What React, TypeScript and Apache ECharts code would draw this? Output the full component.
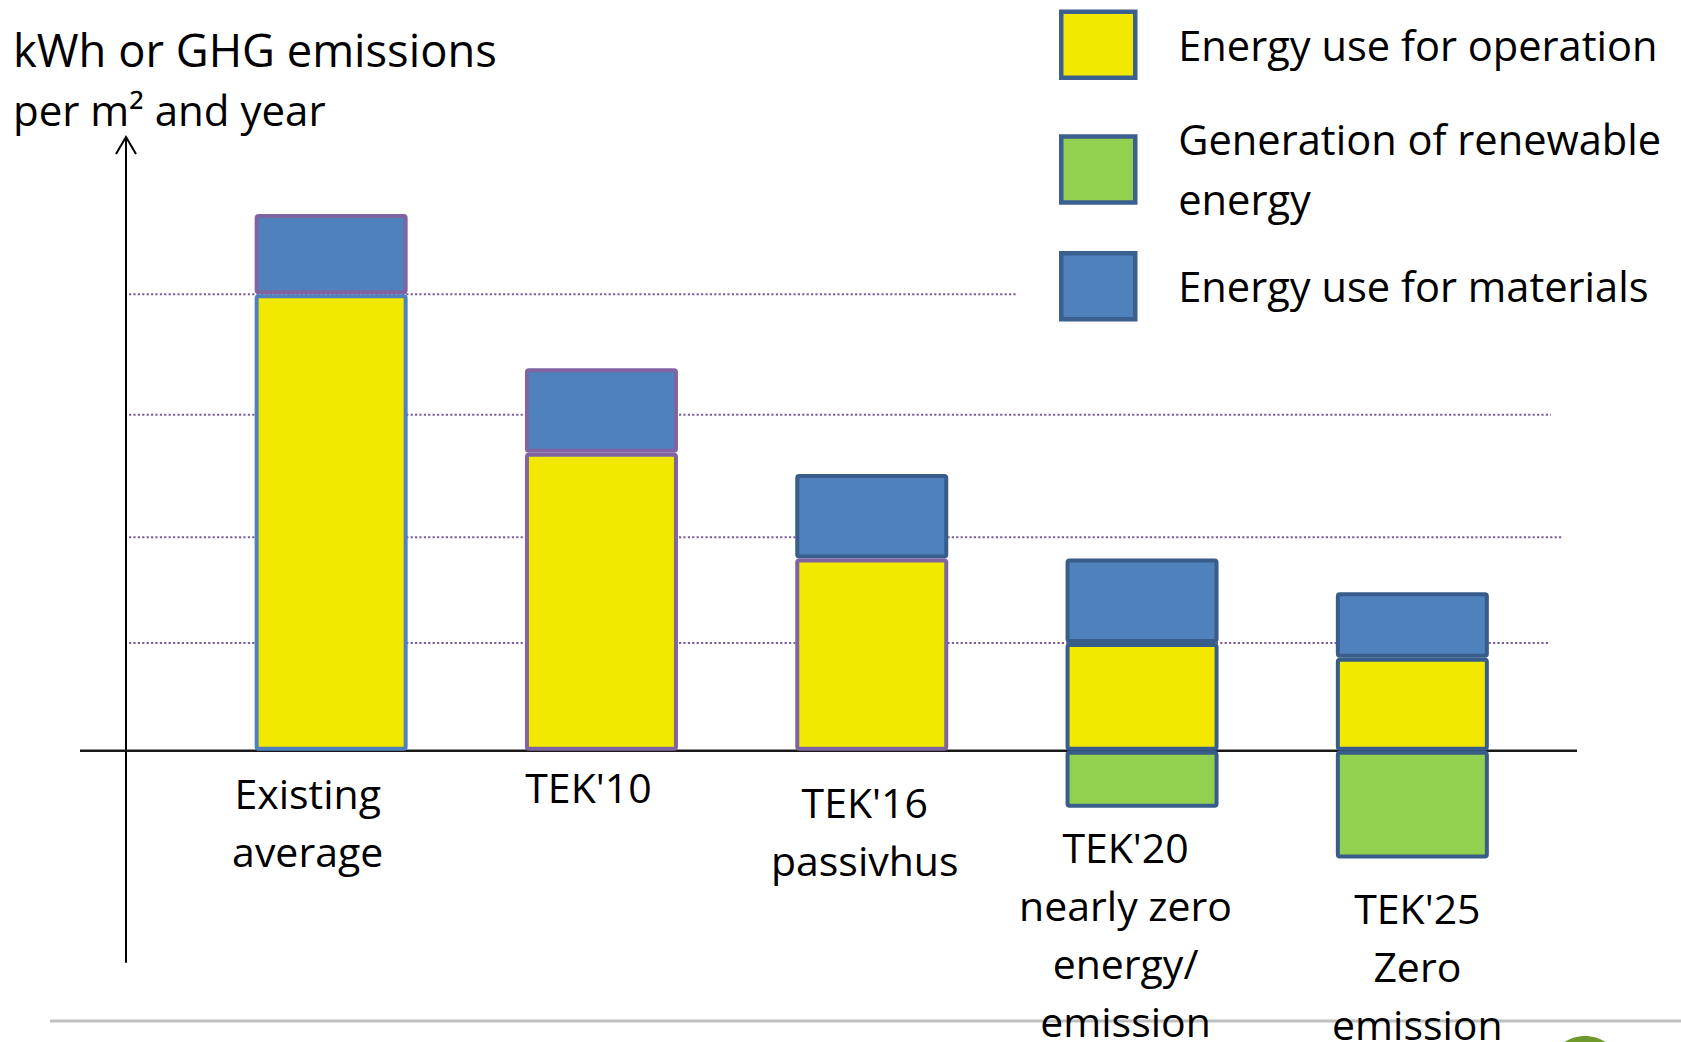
import React, { useEffect, useRef } from 'react';
import * as echarts from 'echarts';

// ---- data ----
const CATEGORIES = [
  'Existing\naverage',
  "TEK'10",
  "TEK'16\npassivhus",
  "TEK'20\nnearly zero\nenergy/\nemission",
  "TEK'25\nZero\nemission",
];
const OPERATION = [216, 141, 91, 51, 44];
const MATERIALS = [38, 40, 40, 40, 31];
const RENEWABLE: (number | null)[] = [null, null, null, -27, -51];
const GUIDE_VALUES = [216, 159, 101, 51];
const Y_MIN = -100;
const Y_MAX = 290;

const SERIES_NAMES = {
  operation: 'Energy use for operation',
  renewable: 'Generation of renewable energy',
  materials: 'Energy use for materials',
};

// ---- styles / layout ----
const FONT = '"Open Sans", "Noto Sans", sans-serif';
const YELLOW = '#f3e900';
const BLUE = '#4f81bd';
const GREEN = '#92d050';
const DARK = '#385d8a';
const PURPLE = '#8064a2';
const LIGHT = '#4f81bd';
const OPERATION_BORDER = [LIGHT, PURPLE, PURPLE, DARK, DARK];
const MATERIALS_BORDER = [PURPLE, PURPLE, DARK, DARK, DARK];
const LABEL_PADDING = [
  [13.5, 47, 0, 0],
  [7.5, 26, 0, 0],
  [22.5, 14, 0, 0],
  [67.5, 33, 0, 0],
  [128.5, 0, 0, 10],
];
const GUIDE_LEFT_X = 129;
const GUIDE_RIGHT_X = [1017, 1551, 1562, 1548];
const GRID = { left: 196, right: 133.5, top: 138, bottom: 80 };
const Y_AXIS_OFFSET = 70;
const BAR_WIDTH = 153;

const legendCommon = {
  orient: 'vertical',
  left: 1059,
  padding: 0,
  itemGap: 29.5,
  itemWidth: 74,
  itemHeight: 66,
  icon: 'rect',
  selectedMode: false,
  itemStyle: { borderColor: '#3b5f8e', borderWidth: 4.5 },
  textStyle: { fontFamily: FONT, fontSize: 41.6, lineHeight: 60, color: '#000', padding: [0, 0, 0, 38] },
  formatter: (name: string) => (name === SERIES_NAMES.renewable ? 'Generation of renewable\nenergy' : name),
};

export default function App() {
  const ref = useRef<HTMLDivElement>(null);

  useEffect(() => {
    const chart = echarts.init(ref.current!, null, { renderer: 'svg' });

    const barCommon = {
      type: 'bar',
      stack: 'total',
      barWidth: BAR_WIDTH,
      emphasis: { disabled: true },
    };

    const option: any = {
      animation: false,
      backgroundColor: '#ffffff',
      textStyle: { fontFamily: FONT },
      title: {
        text: '{a|kWh or GHG emissions}\n{b|per m² and year}',
        left: 13,
        top: 19.5,
        padding: 0,
        textStyle: {
          fontFamily: FONT,
          fontSize: 45.3,
          lineHeight: 60,
          fontWeight: 'normal',
          color: '#000',
          rich: {
            a: { fontFamily: FONT, fontSize: 45.3, lineHeight: 60, color: '#000' },
            b: { fontFamily: FONT, fontSize: 42, lineHeight: 60, color: '#000' },
          },
        },
      },
      legend: [
        { ...legendCommon, top: 9.4, data: [SERIES_NAMES.operation, SERIES_NAMES.renewable] },
        { ...legendCommon, top: 251, data: [SERIES_NAMES.materials] },
      ],
      grid: { ...GRID, containLabel: false, outerBoundsMode: 'none' },
      xAxis: {
        type: 'category',
        z: 5,
        data: CATEGORIES.map((c, i) => ({
          value: c,
          textStyle: { padding: LABEL_PADDING[i] },
        })),
        axisLine: { show: false },
        axisTick: { show: false },
        axisLabel: {
          interval: 0,
          margin: 0,
          fontFamily: FONT,
          fontSize: 41,
          lineHeight: 58,
          color: '#000',
        },
        splitLine: { show: false },
      },
      yAxis: {
        type: 'value',
        min: Y_MIN,
        max: Y_MAX,
        offset: Y_AXIS_OFFSET,
        axisLine: { show: true, lineStyle: { color: '#000', width: 2 } },
        axisTick: { show: false },
        axisLabel: { show: false },
        splitLine: { show: false },
      },
      series: [
        {
          ...barCommon,
          name: SERIES_NAMES.operation,
          z: 3,
          itemStyle: { color: YELLOW, borderColor: DARK, borderWidth: 4, borderRadius: 2 },
          data: OPERATION.map((v, i) => ({ value: v, itemStyle: { borderColor: OPERATION_BORDER[i] } })),
        },
        {
          ...barCommon,
          name: SERIES_NAMES.materials,
          z: 2,
          itemStyle: { color: BLUE, borderColor: DARK, borderWidth: 4, borderRadius: 2 },
          data: MATERIALS.map((v, i) => ({ value: v, itemStyle: { borderColor: MATERIALS_BORDER[i] } })),
        },
        {
          ...barCommon,
          name: SERIES_NAMES.renewable,
          z: 2,
          itemStyle: { color: GREEN, borderColor: DARK, borderWidth: 4, borderRadius: 2 },
          data: RENEWABLE,
        },
      ],
    };

    chart.setOption(option);

    const y0 = chart.convertToPixel({ yAxisIndex: 0 }, 0) as number;
    const yTop = chart.convertToPixel({ yAxisIndex: 0 }, Y_MAX) as number;
    const yBottom = chart.convertToPixel({ yAxisIndex: 0 }, Y_MIN) as number;
    const axisX = GRID.left - Y_AXIS_OFFSET;

    const elements: any[] = [];
    GUIDE_VALUES.forEach((v, i) => {
      const y = chart.convertToPixel({ yAxisIndex: 0 }, v) as number;
      elements.push({
        type: 'line',
        silent: true,
        z: 0,
        shape: { x1: GUIDE_LEFT_X, y1: y, x2: GUIDE_RIGHT_X[i], y2: y },
        style: { stroke: '#7b5ea0', lineWidth: 2, lineDash: [2.2, 2.2] },
      });
    });
    elements.push({
      type: 'line',
      silent: true,
      z: 1,
      shape: { x1: 80, y1: y0, x2: 1577, y2: y0 },
      style: { stroke: '#1a1a1a', lineWidth: 2.4 },
    });
    elements.push({
      type: 'polyline',
      silent: true,
      z: 1,
      shape: { points: [[axisX - 10, yTop + 16], [axisX, yTop - 1], [axisX + 10, yTop + 16]] },
      style: { stroke: '#000', lineWidth: 2, fill: 'none' },
    });
    elements.push({
      type: 'line',
      silent: true,
      z: 0,
      shape: { x1: 50, y1: 1021, x2: 1681, y2: 1021 },
      style: { stroke: '#bfbfbf', lineWidth: 3 },
    });
    elements.push({
      type: 'ellipse',
      silent: true,
      z: 0,
      shape: { cx: 1585, cy: 1062, rx: 32, ry: 26 },
      style: { fill: '#6f9a2b' },
    });

    chart.setOption({
      xAxis: { axisLabel: { margin: y0 - yBottom } },
      graphic: { elements },
    });

    return () => chart.dispose();
  }, []);

  return (
    <div
      ref={ref}
      style={{ position: 'absolute', left: 0, top: 0, width: 1681, height: 1042, background: '#fff' }}
    />
  );
}
